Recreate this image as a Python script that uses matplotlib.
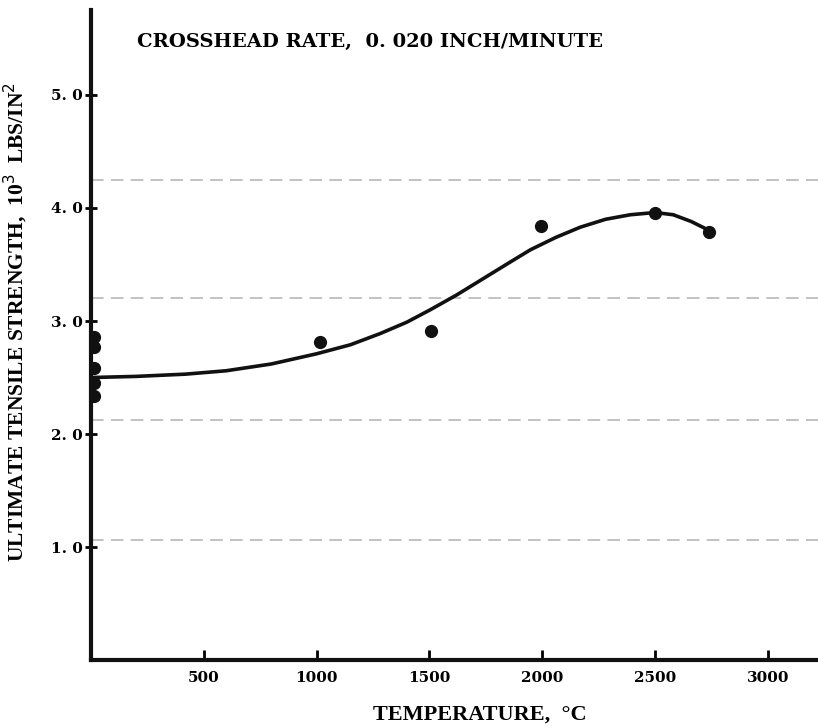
import matplotlib.pyplot as plt

# measured points (temperature in C, strength in 10^3 psi)
temp_pts = [15, 15, 15, 15, 15, 1015, 1505, 1995, 2500, 2740]
strength_pts = [2.86, 2.77, 2.58, 2.45, 2.34, 2.81, 2.91, 3.84, 3.96, 3.79]

# faired curve
curve_t = [0, 200, 420, 600, 800, 1000, 1150, 1283, 1400, 1504, 1620, 1726, 1840, 1947,
           2060, 2168, 2280, 2389, 2500, 2580, 2660, 2740]
curve_s = [2.50, 2.51, 2.53, 2.56, 2.62, 2.71, 2.79, 2.89, 2.99, 3.10, 3.23, 3.36, 3.50, 3.63,
           3.74, 3.83, 3.90, 3.94, 3.96, 3.94, 3.88, 3.80]

x_ticks = [500, 1000, 1500, 2000, 2500, 3000]
y_ticks = [1.0, 2.0, 3.0, 4.0, 5.0]
y_tick_labels = ['1. 0', '2. 0', '3. 0', '4. 0', '5. 0']

# faint show-through lines from the scanned page
ghost_lines = [4.25, 3.20, 2.12, 1.06]

plt.rcParams['font.family'] = ['DejaVu Serif']

fig = plt.figure(figsize=(8.18, 7.27), dpi=100)
ax = fig.add_axes([0.111, 0.092, 0.889, 0.894])

for g in ghost_lines:
    ax.axhline(g, color='#bdbdbd', lw=1.3, ls=(0, (7, 4)), zorder=0)

ax.plot(curve_t, curve_s, color='#111111', lw=2.6, zorder=2, solid_capstyle='round')
ax.plot(temp_pts, strength_pts, 'o', color='#111111', ms=8.5, zorder=3)

ax.set_xlim(0, 3221)
ax.set_ylim(0, 5.75)

for side in ['top', 'right']:
    ax.spines[side].set_visible(False)
for side in ['left', 'bottom']:
    ax.spines[side].set_linewidth(3)
    ax.spines[side].set_color('#111111')

ax.set_xticks(x_ticks)
ax.set_xticklabels([str(t) for t in x_ticks], fontsize=11, fontweight='bold')
ax.set_yticks(y_ticks)
ax.set_yticklabels(y_tick_labels, fontsize=11, fontweight='bold')
ax.tick_params(axis='x', direction='in', length=7, width=2, pad=8)
ax.tick_params(axis='y', direction='inout', length=8, width=2, pad=2)

ax.text(0.063, 0.951, 'CROSSHEAD RATE,  0. 020 INCH/MINUTE', transform=ax.transAxes,
        fontsize=14, fontweight='bold', va='center')

ax.set_xlabel('TEMPERATURE,  \u00b0C', fontsize=16, fontweight='bold',
              family='Liberation Serif')
ax.xaxis.set_label_coords(0.535, -0.068)
ax.set_ylabel('ULTIMATE TENSILE STRENGTH,  10$^3$  LBS/IN$^2$', fontsize=15.5,
              fontweight='bold', family='Liberation Serif')
ax.yaxis.set_label_coords(-0.083, 0.52)

fig.savefig('out.png', dpi=100)
